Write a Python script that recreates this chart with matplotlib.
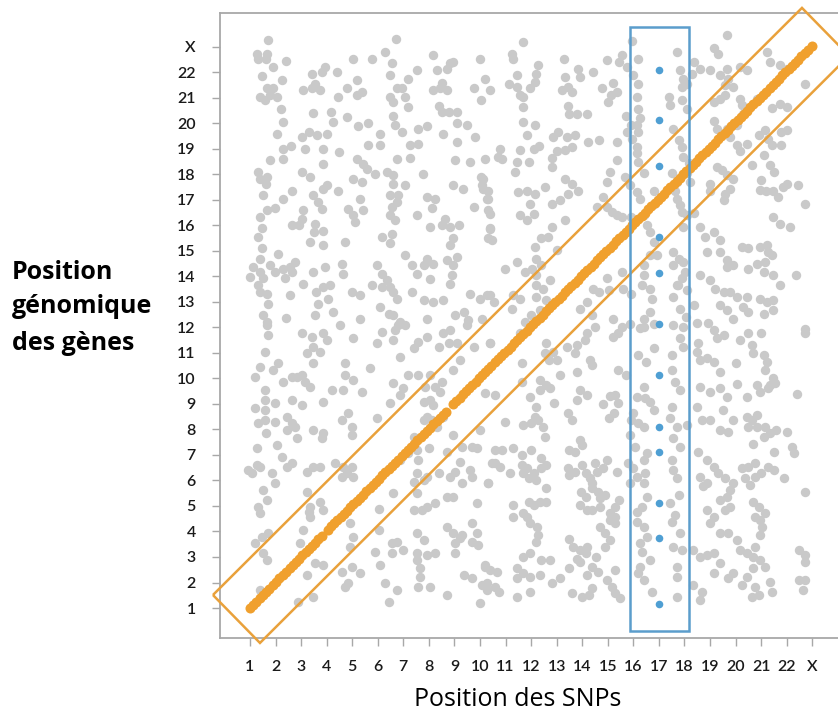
import matplotlib
matplotlib.use("Agg")
import matplotlib.pyplot as plt
from matplotlib.patches import Polygon, Rectangle

# ---------------- data ----------------
tick_pos = list(range(1, 24))
tick_labels = [str(i) for i in range(1, 23)] + ["X"]

# grey points (SNP position, gene position), read region by region
gray_upper_left = [
 (1.72,23.26),(1.26,22.74),(1.33,22.54),(1.65,22.74),(1.63,22.54),(1.89,22.22),(2.41,22.44),(1.46,21.86),(2.24,21.69),
 (1.39,21.05),(1.59,20.92),(1.65,21.37),(1.91,21.37),(2.04,21.02),(1.78,21.12),
 (2.2,20.58),(2.3,20.06),(2.04,19.6),(2.28,19.0),(2.6,19.1),(2.28,18.6),(1.78,18.56),(1.33,18.1),(1.4,17.84),(1.65,17.9),
 (1.63,17.64),(1.52,17.18),(1.4,16.33),(1.46,15.9),(1.33,15.56),(1.65,16.6),(1.98,16.69),(2.3,17.03),(2.63,17.34),(2.63,16.0),
 (2.93,16.0),(3.09,16.6),(3.03,16.27),
 (1.46,15.1),(1.39,14.7),(1.13,14.37),(1.0,13.98),(1.39,14.18),(1.52,13.92),(1.78,14.44),(1.98,14.18),(2.3,14.28),(2.37,13.92),
 (2.57,14.37),(2.76,14.57),(2.63,14.18),
 (2.11,14.9),(1.33,13.65),(1.39,13.4),(1.65,13.33),(1.72,12.93),(2.57,13.26),(1.52,12.48),(1.65,12.22),(2.41,12.37),(3.09,13.72),
 (3.48,14.18),(3.58,13.4),(3.87,13.6),(4.13,13.65),(3.68,12.93),(4.07,13.13),(3.55,12.48),(4.26,12.6),(3.94,14.37),(3.35,15.35),
 (3.87,15.22),(3.55,16.07),(3.51,15.74),(3.85,15.8),(3.48,17.18),(3.68,16.92),(3.81,16.66),(3.87,17.44),(4.0,17.57),(4.46,17.34),
 (3.03,18.1),(3.35,17.9),(3.87,18.42),(3.16,19.0),(3.87,19.0),
 (3.03,19.47),(3.29,19.67),(3.61,19.54),(4.0,19.57),
 (3.45,20.4),(4.16,20.45),(4.26,20.06),(3.09,21.3),(3.42,21.37),(3.55,21.56),(3.74,21.3),(3.42,21.95),(3.81,22.0),(3.94,22.2),
 (4.39,22.0),(4.46,21.04),(4.79,21.37),(5.02,22.52),(5.2,21.72),(5.18,21.1),(5.37,21.24),(4.81,20.26),(5.24,19.9),(5.6,20.03),
 (4.5,18.88),(5.2,18.6),(5.44,18.42),(5.57,18.2),(5.89,18.03),(5.05,17.84),(5.37,17.7),(5.31,17.05),(4.85,16.66),(5.05,16.4),
 (5.1,16.14),(5.44,16.6),(4.72,15.35),(4.59,14.5),(4.65,14.1),(4.98,13.4),(5.31,13.26),(5.76,13.65),(5.31,12.35),(5.63,19.14),
 (6.09,19.14),(6.09,19.6),(5.76,22.54),(6.29,22.8),(6.55,22.35),(6.72,23.3),(6.46,21.9),
 (6.48,21.05),(6.75,21.37),(6.94,21.37),(7.07,21.05),(6.61,20.85),
 (7.2,20.65),(6.61,20.3),(6.67,19.95),(6.94,19.67),(7.2,21.76),(7.53,22.1),(7.59,19.8),(7.92,19.9),(7.27,19.15),(7.59,19.2),
 (7.27,18.65),(6.77,18.62),(6.35,18.1),(6.61,17.98),(6.61,17.64),(7.07,17.58),
 (6.48,17.18),(6.81,17.18),(6.75,16.92),(6.55,16.73),
 (6.48,16.4),(6.67,16.2),(7.53,16.4),(7.76,18.03),(6.16,15.55),(6.55,15.68),(6.48,15.3),(7.07,14.83),(7.33,14.44),(7.53,14.11),
 (7.79,14.44),(7.92,14.7),(8.18,14.5),(8.05,13.91),
 (5.96,14.44),(6.16,14.11),(6.35,13.85),(6.48,13.59),(6.61,13.39),(6.74,13.13),(6.16,13.59),
 (6.61,12.48),(6.42,12.54),(6.87,12.22),(6.09,12.8),(7.33,13.39),(7.79,13.06),(8.18,12.98),(8.57,13.06),(7.92,12.35),
 (8.18,21.3),(8.44,21.37),(8.7,21.3),(8.5,21.6),(8.18,22.67),(8.31,22.1),(8.7,22.15),(8.83,22.35),(8.96,22.41),
 (8.38,20.7),(8.5,20.45),(8.77,20.45),(9.09,20.45),(9.09,20.0),(9.48,19.93),(8.57,19.6),(9.09,19.27),(9.8,19.47),(9.03,18.55),
 (9.62,18.5),(10.0,22.54),(10.2,21.76),(10.4,21.3),(9.75,21.4),(10.05,20.9),(10.05,17.9),(10.2,18.6),(10.1,17.44),(10.3,17.05),
 (10.4,16.46),(9.75,16.73),(8.96,17.6),(9.35,17.44),(7.92,17.1),(8.25,17.05),(8.12,16.7),
 (8.05,15.94),(8.5,16.0),(8.63,16.27),(8.83,15.94),(9.16,16.0),(8.96,15.5),(8.83,15.22),(8.7,14.64),(8.96,14.44),(8.9,14.05),
 (8.83,13.72),(9.09,14.77),(10.4,15.9),(10.3,15.5),(9.6,13.3),(10.0,13.1),(10.27,13.26),(9.36,12.6),(9.55,12.28),(9.03,12.5),
 (10.72,18.7),
]

gray_lower_left = [
 (1.65,12.1),(1.72,11.7),(1.59,11.05),(1.39,10.46),(1.2,10.07),(1.91,10.33),(2.11,10.62),(1.6,9.55),(1.6,9.16),(1.59,8.77),
 (1.6,8.37),(1.63,7.85),(1.2,8.83),(1.33,8.24),(1.98,9.03),(1.98,8.3),(1.26,7.26),(0.93,6.41),(1.07,6.28),(1.26,6.6),
 (1.39,6.54),(1.85,6.28),(1.52,5.63),(1.98,5.9),(1.33,4.97),(1.39,4.71),(1.65,5.24),(1.2,3.54),(1.46,3.8),(1.72,3.93),
 (1.52,3.14),(1.65,2.88),(1.39,1.71),(2.89,1.25),(3.48,1.44),(2.04,7.39),(2.24,6.93),(2.43,6.54),(2.63,6.67),
 (2.3,9.88),(2.63,10.07),(2.83,10.07),(3.02,10.14),(3.16,9.88),(3.35,9.68),
 (2.63,9.16),(2.43,8.5),(2.63,8.24),(2.76,8.1),(2.43,7.98),(2.83,7.65),(3.02,8.96),
 (3.02,11.77),(3.42,11.64),(3.48,11.25),(3.74,11.05),(3.87,11.77),(4.0,11.5),
 (3.22,10.99),(3.48,10.6),(3.22,6.35),(3.48,6.54),(3.74,6.54),(3.22,5.56),(3.35,4.97),(3.29,4.78),(3.35,4.58),(3.09,4.06),
 (2.96,3.54),(3.22,2.29),(3.55,2.75),(3.87,2.69),(3.48,7.98),(3.87,7.85),(3.81,7.65),(3.87,9.09),(4.2,9.55),(3.74,5.17),
 (3.87,4.84),(4.33,6.67),(4.59,6.15),(4.72,10.6),(4.72,10.14),(5.05,9.94),(4.65,9.55),(4.59,8.37),(4.85,8.63),(4.98,8.1),
 (4.98,7.78),(5.05,11.57),(4.52,12.1),(5.37,9.48),(5.7,10.4),(5.96,8.44),
 (4.65,6.54),(4.79,6.28),(5.05,6.15),(4.98,6.54),
 (4.92,4.32),(5.05,3.8),(4.92,3.4),(4.98,2.62),(4.59,2.42),(4.72,1.84),(4.85,1.97),(5.31,2.36),(6.03,4.06),(5.9,3.21),
 (6.09,2.69),(6.29,1.97),(6.75,1.71),(6.42,1.25),(6.55,3.54),(6.75,3.6),(7.0,3.27),(6.55,3.14),(6.03,4.9),(6.61,5.5),
 (7.4,5.95),(7.4,4.84),(7.72,4.84),(7.92,4.97),(8.25,5.1),(7.53,5.5),(7.79,6.0),(7.53,6.28),(7.92,6.15),(8.38,6.28),
 (8.7,5.37),(8.96,5.37),(8.83,6.15),(9.03,6.35),(9.29,5.9),(9.68,6.15),(9.88,5.1),(10.33,5.9),
 (8.7,4.19),(8.96,3.93),(9.22,3.74),(9.03,3.54),(9.29,3.86),(9.68,4.32),(9.88,3.93),(9.68,3.6),(9.94,3.47),(9.03,3.14),
 (9.36,2.29),(9.68,2.16),(10.07,1.9),(10.27,1.71),(10.0,1.18),(8.7,1.51),(10.2,2.62),(10.4,2.49),(10.66,2.42),(10.73,1.64),
 (7.53,3.93),(7.79,3.67),(7.53,3.14),(7.92,3.08),(7.53,2.88),(7.66,2.55),(8.25,3.14),(7.66,2.23),(8.05,1.84),(7.59,1.84),
 (6.86,6.8),(7.2,7.06),(7.4,7.72),(7.53,7.2),(7.59,6.8),(7.79,8.37),(7.92,8.5),(8.12,8.37),(8.31,8.11),(8.57,8.5),
 (8.0,7.26),(8.7,7.13),(8.96,7.78),(9.29,7.33),(9.68,7.33),(9.88,7.26),(9.22,6.74),(9.61,6.41),(10.0,7.98),(10.46,6.67),
 (10.6,7.2),(6.48,9.03),(6.87,9.35),(7.0,9.61),(6.61,9.81),(7.2,10.14),(7.59,10.14),(6.87,10.86),(7.4,11.18),(7.59,11.44),
 (7.92,11.64),(6.61,11.5),(6.67,11.9),(6.16,11.84),(5.96,11.4),(6.8,12.1),(7.07,12.1),(7.85,9.68),(7.79,9.09),(8.05,9.16),
 (8.18,8.96),(8.25,9.68),(8.44,9.48),(8.51,9.87),(8.05,10.14),(8.57,11.77),(8.83,11.9),(8.77,11.38),(9.09,11.38),(8.38,11.25),
 (8.96,10.33),(9.22,10.73),(9.75,11.25),(10.4,11.38),(9.49,12.1),(10.2,9.42),
]

gray_upper_right = [
 (11.7,23.2),(11.24,22.74),(11.3,22.54),
 (11.44,21.89),(11.12,21.56),(11.44,21.43),(11.57,21.1),(11.7,21.04),(11.96,21.37),(12.15,21.63),
 (12.28,22.28),(12.2,21.95),(13.28,22.54),(13.33,21.82),(13.2,21.3),(13.46,21.43),(13.6,21.24),(13.85,22.15),(13.9,21.82),
 (13.46,20.7),(13.5,20.37),(13.78,20.37),(14.18,20.37),(14.44,22.0),(14.97,22.48),(15.2,21.6),(14.77,21.37),(15.0,20.85),
 (15.11,21.1),(15.37,21.24),
 (11.7,20.65),(11.7,20.06),(11.83,19.54),(12.15,19.93),(11.57,18.95),(11.37,18.1),(11.44,18.5),(11.9,18.5),(12.1,19.0),
 (12.3,19.1),(12.8,18.63),(13.0,18.9),(13.33,18.95),(13.6,19.08),(12.87,19.47),(13.07,19.67),(13.4,19.47),(13.7,19.54),
 (14.24,19.27),(14.64,19.34),(15.35,19.27),(15.74,19.67),(12.8,18.3),(13.33,17.84),(14.98,17.7),(15.1,18.1),(15.35,18.55),
 (15.68,17.9),
 (10.13,17.84),(10.07,17.58),(10.33,17.37),(10.26,17.05),(10.33,16.6),(10.4,15.88),(10.46,15.42),(10.8,19.0),(10.86,18.6),
 (11.5,17.3),(11.83,17.37),(12.15,17.24),(12.54,17.5),(11.96,16.86),(12.1,16.46),(11.57,16.4),(11.83,16.2),(12.4,15.5),
 (12.67,15.55),(12.15,15.16),(12.8,16.86),(13.13,17.0),(13.46,17.24),(13.6,17.63),(13.85,17.37),(13.33,16.2),(12.8,15.94),
 (13.0,15.03),(14.57,16.73),(14.96,16.73),(15.15,16.53),(15.35,16.4),(15.55,16.33),(14.83,17.12),
 (10.98,14.31),(11.44,14.57),(11.76,14.18),(12.02,14.31),(12.2,14.7),(12.4,14.44),(12.2,14.05),(12.2,13.65),(12.74,13.85),
 (12.48,13.52),(11.3,13.26),(11.57,13.13),(11.24,12.74),(12.2,13.2),(12.6,13.07),(12.35,12.67),(11.76,12.22),(12.0,12.48),
 (10.4,13.26),(10.53,13.0),(10.07,12.35),
 (14.96,13.92),(15.05,13.46),(14.64,13.39),(14.44,13.52),(14.2,13.0),(13.9,12.74),(14.37,12.48),(15.2,12.35),(15.55,12.02),
 (15.87,12.15),(15.55,14.18),(15.6,13.5),(15.9,13.3),
 (16.4,14.05),(16.33,13.65),(16.66,13.52),(16.72,13.13),(16.66,12.61),(16.4,12.35),(16.27,11.97),(16.8,12.15),
 (17.76,13.65),(17.57,13.2),(17.83,12.74),(18.05,12.41),(18.36,12.87),(18.1,13.46),
 (15.96,23.24),(15.57,22.67),(15.44,22.41),(15.77,22.2),(16.18,22.54),(16.0,21.89),(16.2,21.56),(16.13,21.04),(17.7,22.8),
 (17.83,22.08),(17.96,21.76),(17.9,21.43),(18.1,21.56),(17.9,20.9),(18.1,20.58),(17.38,21.04),(17.44,20.71),(18.36,22.41),
 (18.3,21.95),(16.2,20.58),(16.13,19.93),(16.27,20.2),(15.7,20.3),(15.9,19.93),(15.96,19.4),(16.13,19.08),(16.2,19.67),
 (16.13,18.83),(16.2,18.5),
 (17.57,19.8),(17.77,19.34),(17.9,19.08),(17.96,18.7),(18.17,18.44),(17.5,18.04),(17.7,17.7),(17.63,17.37),(18.1,18.04),
 (18.23,17.7),(15.87,17.6),(16.13,17.3),(16.27,17.04),(16.8,17.37),(16.8,16.85),(16.4,18.04),
 (17.7,17.04),(17.83,16.8),(17.9,16.53),(18.1,16.4),
 (15.9,16.33),(16.4,16.4),(16.53,16.0),(16.66,15.74),(16.8,15.35),(17.96,15.94),
 (16.66,14.83),(16.92,14.83),(16.4,14.44),
 (17.57,14.96),(17.77,14.7),(17.96,14.57),(17.57,14.44),(18.03,14.18),(17.7,13.65),(17.9,13.92),
 (18.6,22.15),(19.14,22.94),(19.33,22.74),(19.66,23.46),(19.0,22.08),(19.4,21.89),(19.66,22.15),(19.72,21.76),(19.6,21.5),
 (19.9,21.43),(19.6,21.1),(19.4,20.97),(19.14,20.85),(20.18,22.22),(20.44,22.08),(21.35,22.41),(21.74,22.28),(22.0,22.15),
 (21.22,22.8),(22.73,21.56),(20.18,20.97),(20.24,20.71),(20.3,20.37),(20.83,20.97),(21.1,21.17),(21.44,20.6),(21.74,20.78),
 (22.0,20.65),(19.14,20.1),(19.27,19.8),(19.66,19.8),(19.79,19.47),(20.05,19.93),(20.05,19.15),(20.18,18.9),(20.44,19.2),
 (20.9,19.54),(21.16,19.73),(21.28,19.4),(21.44,19.15),(21.77,19.15),(21.77,19.67),(22.0,19.73),(21.1,18.75),(21.35,18.36),
 (21.5,18.1),(19.27,18.3),(19.46,18.17),(19.66,17.97),(19.92,17.84),(19.79,17.44),(19.6,17.24),(19.53,16.99),(19.0,17.63),
 (19.0,17.37),(20.63,18.36),(21.0,17.8),(20.96,17.4),(21.2,17.37),(21.48,17.37),(21.67,17.1),(21.87,17.5),(22.0,17.63),
 (22.46,17.57),(22.73,16.86),(21.48,16.33),(21.74,16.07),(22.13,15.94),(18.36,16.5),(18.61,15.94),(18.8,15.55),(19.14,15.74),
 (19.4,15.42),(18.87,14.96),(19.4,14.96),(19.66,14.64),(19.92,14.44),(19.66,14.37),(20.24,15.16),(20.5,15.1),(20.96,15.16),
 (21.22,15.22),(21.28,14.96),(21.41,14.83),(21.16,14.57),(20.83,14.5),(20.5,14.31),(21.1,14.18),(21.48,14.05),(22.35,14.05),
 (18.6,14.05),(19.0,13.85),(19.2,13.52),(19.53,13.39),(19.8,13.39),(20.05,13.2),(20.44,13.2),(19.4,12.87),(19.66,12.67),
 (19.92,12.35),(20.3,12.8),(20.5,12.61),(20.96,13.13),(21.22,13.0),(21.48,13.07),(21.1,12.54),(21.48,12.67),(21.74,13.65),
 (22.73,11.95),
]

gray_lower_right = [
 (10.4,11.38),(10.6,9.35),(10.98,8.31),(10.86,7.2),(10.59,6.67),(10.79,6.54),(11.18,6.28),(10.33,5.9),(11.3,7.26),(11.63,7.0),
 (12.0,7.2),(12.4,6.87),(11.63,6.6),(11.83,6.48),(12.1,6.28),(12.4,6.48),(12.6,6.6),(11.7,6.28),(11.9,6.09),(12.2,6.02),
 (12.6,5.7),(11.3,5.03),(11.9,5.17),(12.1,5.03),(12.35,5.17),(12.6,5.17),(11.7,4.71),(11.83,4.58),(11.96,4.32),(12.22,4.19),
 (11.3,4.58),(12.27,3.86),(12.2,3.6),(11.7,3.0),(11.96,3.14),(12.4,2.88),(12.74,2.88),(11.44,2.55),(11.44,2.16),(11.7,2.36),
 (11.96,2.23),(12.35,2.29),(10.2,2.68),(10.26,1.97),(10.59,1.84),(11.44,1.44),(11.96,1.64),(12.8,1.97),(13.13,2.16),(13.5,2.55),
 (13.6,1.57),(14.0,1.44),(14.26,1.51),(14.4,1.77),(13.5,3.72),(13.63,3.4),(13.9,3.27),(14.13,3.14),(13.78,2.94),(13.9,2.81),
 (14.2,3.4),(14.53,3.0),(14.4,2.62),(14.6,2.42),(14.18,2.29),(14.7,4.19),(14.9,3.93),(15.1,3.67),(14.9,3.4),(15.1,4.45),
 (15.3,4.32),(14.96,2.1),(15.15,1.84),(15.3,1.57),(15.48,1.38),(15.3,2.49),(13.5,7.2),(13.7,7.13),(13.9,7.59),(14.0,7.39),
 (13.46,6.48),(13.5,6.2),(13.7,6.35),(14.0,6.6),(14.13,6.28),(14.3,6.09),(14.4,5.9),(14.5,6.67),(14.8,6.48),(14.57,6.35),
 (13.96,5.56),(14.13,5.37),(14.4,5.7),(14.6,5.56),(14.7,5.3),(14.9,5.43),(13.9,5.03),(14.2,4.84),(14.4,4.84),(14.7,4.97),
 (15.1,4.71),(15.3,4.58),(15.3,4.97),(15.45,5.24),(14.96,6.8),(15.35,6.35),(14.8,9.0),(15.1,9.3),(15.3,9.35),(15.4,9.03),
 (15.25,8.63),(15.05,8.44),(15.4,10.33),(15.7,10.14),(15.4,11.77),(15.2,11.64),(13.78,9.16),(14.2,9.35),(13.9,9.55),(13.46,8.63),
 (13.6,8.37),(13.4,11.25),(13.7,11.0),(13.8,11.32),(13.8,10.27),(14.2,11.77),(14.1,11.5),(14.3,10.73),(14.4,10.53),(14.5,12.03),
 (12.85,11.05),(13.0,10.73),(12.55,10.99),(12.7,10.73),(12.35,9.94),(12.6,9.75),(12.74,9.61),(12.35,9.55),(11.96,9.29),(12.2,8.9),
 (12.15,8.5),(11.7,8.18),(12.0,8.24),(12.27,8.37),(12.55,7.72),(12.48,8.11),(11.63,10.6),(12.9,9.03),(12.6,11.38),(13.13,10.14),
 (11.57,11.77),(11.63,9.87),
 (16.4,12.03),(16.8,11.18),(16.2,10.92),(16.5,10.66),(16.4,9.68),(16.13,9.29),(16.46,9.22),(16.0,8.63),(15.9,8.37),(16.2,8.24),
 (16.4,8.11),(16.8,8.76),(16.66,9.09),(15.87,7.78),(16.07,7.33),(16.53,7.06),(16.4,6.8),(15.8,6.67),(16.0,6.48),(16.13,6.15),
 (15.87,5.9),(16.4,5.9),(16.46,6.28),(16.53,5.37),(16.33,4.97),(16.13,4.78),(16.13,4.39),(16.4,4.19),(16.53,3.8),(16.27,3.54),
 (16.33,3.21),(16.27,2.62),(16.2,2.36),(16.66,2.88),(16.4,2.1),(16.73,1.64),
 (17.57,12.1),(17.96,12.03),(17.83,11.57),(17.96,11.25),(17.5,10.92),(17.5,10.33),(17.63,9.87),(17.83,9.55),(17.5,8.9),(17.44,8.44),
 (17.7,8.11),(18.1,8.18),(17.57,7.65),(17.83,7.33),(17.5,6.8),(17.57,6.41),(17.7,6.09),(17.77,5.43),(17.44,5.1),(17.63,4.65),
 (17.5,4.39),(17.83,3.93),(17.57,3.4),(17.9,3.27),(17.7,2.62),(17.7,2.23),(17.7,1.44),
 (18.48,12.16),(18.94,12.16),(19.14,11.9),(19.27,11.57),(19.53,11.7),(18.48,11.05),(18.6,10.73),(18.87,10.79),(19.14,10.66),
 (18.55,11.38),(19.4,10.27),(18.6,9.68),(19.0,9.48),(19.4,9.61),(19.66,9.29),(19.5,8.77),(20.05,9.8),(20.0,10.6),(18.48,8.9),
 (18.68,8.37),(19.0,8.37),(19.4,7.98),(19.72,7.91),(19.92,8.37),(18.55,7.13),(18.87,6.8),(19.14,6.54),(19.33,6.28),(19.6,6.09),
 (18.6,6.15),(18.87,5.9),(18.74,5.77),(19.4,5.24),(19.66,5.37),(19.79,4.97),(19.6,4.84),(19.14,4.58),(18.87,4.84),(19.0,4.32),
 (19.4,3.93),(19.72,3.93),(20.05,3.67),(18.35,3.27),(18.6,3.0),(18.87,3.08),(19.14,3.14),(19.4,2.75),(18.35,1.9),(18.68,1.64),
 (18.6,1.31),(19.14,2.36),(19.72,2.16),(19.92,2.36),(20.24,1.9),(20.44,2.23),(20.7,2.55),(20.63,1.44),(20.9,1.51),(21.16,2.62),
 (21.35,2.03),(21.41,1.64),(20.76,1.84),(20.18,3.27),(20.44,3.14),(20.7,3.0),(20.96,2.88),(20.76,3.4),(20.18,11.5),(20.5,11.77),
 (20.63,11.32),(20.7,10.99),(21.0,11.77),(21.1,10.92),(21.22,10.66),(21.16,10.33),(21.48,10.0),(21.35,9.75),(21.55,9.81),
 (20.83,9.75),(20.96,9.48),(21.28,9.61),(20.44,9.29),(20.44,8.5),(20.63,8.37),(20.83,8.57),(20.5,8.1),(20.83,8.1),(21.16,8.1),
 (21.35,7.85),(21.6,7.98),(21.1,7.72),(20.7,7.45),(21.5,7.13),(22.0,7.91),(22.2,7.33),(22.3,7.06),(20.5,6.54),(20.24,6.48),
 (20.37,6.09),(20.57,5.83),(20.76,6.15),(21.0,6.28),(20.76,6.67),(21.28,6.54),(21.5,6.41),(21.9,6.08),(19.9,5.9),(19.8,5.63),
 (20.7,5.17),(20.9,4.97),(20.76,4.58),(20.96,4.45),(21.16,4.71),(21.03,4.19),(20.96,3.86),(22.4,9.4),(22.7,11.77),(22.7,5.56),
 (22.5,3.27),(22.73,3.08),(22.73,2.81),(22.5,2.1),(22.7,2.1),(22.63,1.71),
]

# orange cis points along the diagonal
orange_x = [1.00,1.12,1.25,1.38,1.50,1.62,1.75,1.90,2.02,2.15,2.30,2.42,2.55,2.68,2.80,2.93,3.05,3.18,3.30,3.42,3.55,3.68,3.80,
            4.05,4.18,4.30,4.42,4.55,4.68,4.80,4.93,5.05,5.18,5.30,5.42,5.55,5.68,5.80,5.93,6.05,6.18,6.30,6.42,6.55,6.68,
            6.80,6.93,7.05,7.18,7.30,7.42,7.55,7.68,7.80,7.93,8.05,8.18,8.30,8.42,8.55,8.68,8.95,9.08,9.20,9.33,9.45,9.58,
            9.70,9.83,9.95,10.08,10.20,10.33,10.45,10.58,10.70,10.83,10.95,11.08,11.20,11.33,11.45,11.58,11.70,11.83,11.95,
            12.08,12.20,12.33,12.45,12.58,12.70,12.83,12.95,13.08,13.20,13.33,13.45,13.58,13.70,13.83,13.95,14.08,14.20,
            14.33,14.45,14.58,14.70,14.83,14.95,15.08,15.20,15.33,15.45,15.58,15.70,15.83,15.95,16.08,16.20,16.33,16.45,
            16.58,16.70,16.83,16.95,17.08,17.20,17.33,17.45,17.58,17.70,17.83,17.95,18.08,18.20,18.33,18.45,18.58,18.70,
            18.83,18.95,19.08,19.20,19.33,19.45,19.58,19.70,19.83,19.95,20.08,20.20,20.33,20.45,20.58,20.70,20.83,20.95,
            21.08,21.20,21.33,21.45,21.58,21.70,21.83,21.95,22.08,22.20,22.33,22.45,22.58,22.70,22.83,23.00]
orange_y = [1.00,1.12,1.24,1.38,1.52,1.63,1.76,1.90,2.03,2.16,2.30,2.43,2.56,2.68,2.81,2.94,3.06,3.19,3.31,3.43,3.56,3.69,3.81,
            4.07,4.20,4.32,4.44,4.57,4.70,4.82,4.95,5.07,5.20,5.32,5.44,5.57,5.70,5.82,5.95,6.07,6.20,6.32,6.44,6.57,6.70,
            6.82,6.95,7.07,7.20,7.32,7.44,7.57,7.70,7.82,7.95,8.07,8.20,8.32,8.44,8.57,8.70,9.00,9.13,9.25,9.38,9.50,9.63,
            9.75,9.88,10.00,10.13,10.25,10.38,10.50,10.63,10.75,10.88,11.00,11.13,11.25,11.38,11.50,11.63,11.75,11.88,12.00,
            12.13,12.25,12.38,12.50,12.63,12.75,12.88,13.00,13.13,13.25,13.38,13.50,13.63,13.75,13.88,14.00,14.13,14.25,
            14.38,14.50,14.63,14.75,14.88,15.00,15.13,15.25,15.38,15.50,15.63,15.75,15.88,16.00,16.13,16.25,16.38,16.50,
            16.63,16.75,16.88,17.00,17.13,17.25,17.38,17.50,17.63,17.75,17.88,18.00,18.13,18.25,18.38,18.50,18.63,18.75,
            18.88,19.00,19.13,19.25,19.38,19.50,19.63,19.75,19.88,20.00,20.13,20.25,20.38,20.50,20.63,20.75,20.88,21.00,
            21.13,21.25,21.38,21.50,21.63,21.75,21.88,22.00,22.13,22.25,22.38,22.50,22.63,22.75,22.88,23.03]

# blue trans points (one SNP on chromosome 17)
blue_y = [22.11, 20.12, 18.32, 15.55, 14.15, 12.15, 10.14, 8.11, 7.1, 5.13, 3.73, 1.14]
blue_x = [17.0, 17.0, 17.0, 17.0, 17.0, 17.0, 17.0, 17.0, 17.0, 17.0, 17.0, 17.0]

# highlight frames (data coordinates)
orange_frame = [(-0.45, 1.51), (1.39, -0.37), (24.44, 22.65), (22.6, 24.53)]
blue_frame_x = (15.87, 18.18)
blue_frame_y = (0.10, 23.78)

# ---------------- styling ----------------
GRAY = "#c9c9c9"
ORANGE = "#f0a02e"
ORANGE_LINE = "#e9a13b"
BLUE = "#4f9fd3"
BLUE_LINE = "#5b9dcc"
AXIS = "#a8a8a8"

fig = plt.figure(figsize=(8.38, 7.15), dpi=100)
ax = fig.add_axes([220/838, 1 - 638/715, 1 - 220/838, (638 - 13)/715])

gray_all = gray_upper_left + gray_lower_left + gray_upper_right + gray_lower_right
ax.scatter([p[0] for p in gray_all], [p[1] for p in gray_all], s=46, c=GRAY, linewidths=0, zorder=2)
ax.scatter(orange_x, orange_y, s=52, c=ORANGE, linewidths=0, zorder=3)
ax.scatter(blue_x, blue_y, s=30, c=BLUE, linewidths=0, zorder=4)

ax.add_patch(Polygon(orange_frame, closed=True, fill=False, edgecolor=ORANGE_LINE, lw=1.8, zorder=5, clip_on=False))
ax.add_patch(Rectangle((blue_frame_x[0], blue_frame_y[0]), blue_frame_x[1] - blue_frame_x[0],
                       blue_frame_y[1] - blue_frame_y[0], fill=False, edgecolor=BLUE_LINE, lw=1.8, zorder=5))

ax.set_xlim(-0.174, 24.01)
ax.set_ylim(-0.176, 24.33)

ax.set_xticks(tick_pos)
ax.set_xticklabels(tick_labels, fontfamily="Lato", fontweight="semibold", fontsize=11.5, color="#1a1a1a")
ax.set_yticks(tick_pos)
ax.set_yticklabels(tick_labels, fontfamily="Lato", fontweight="semibold", fontsize=11.5, color="#1a1a1a")
ax.tick_params(axis="both", direction="out", length=5.5, width=1.0, color=AXIS)
ax.tick_params(axis="y", pad=12)
ax.tick_params(axis="x", pad=10)

for side in ["left", "bottom", "top"]:
    ax.spines[side].set_color(AXIS)
    ax.spines[side].set_linewidth(1.3)
ax.spines["right"].set_visible(False)

fig.text(518/838, 1 - 706/715, "Position des SNPs", ha="center", va="baseline",
         fontfamily="Open Sans", fontsize=18, color="#000000")
for txt, base in [("Position", 279), ("génomique", 313), ("des gènes", 350)]:
    fig.text(12/838, 1 - base/715, txt, ha="left", va="baseline",
             fontfamily="Open Sans", fontweight="bold", fontsize=18, color="#000000")

fig.savefig("out.png", dpi=100)
